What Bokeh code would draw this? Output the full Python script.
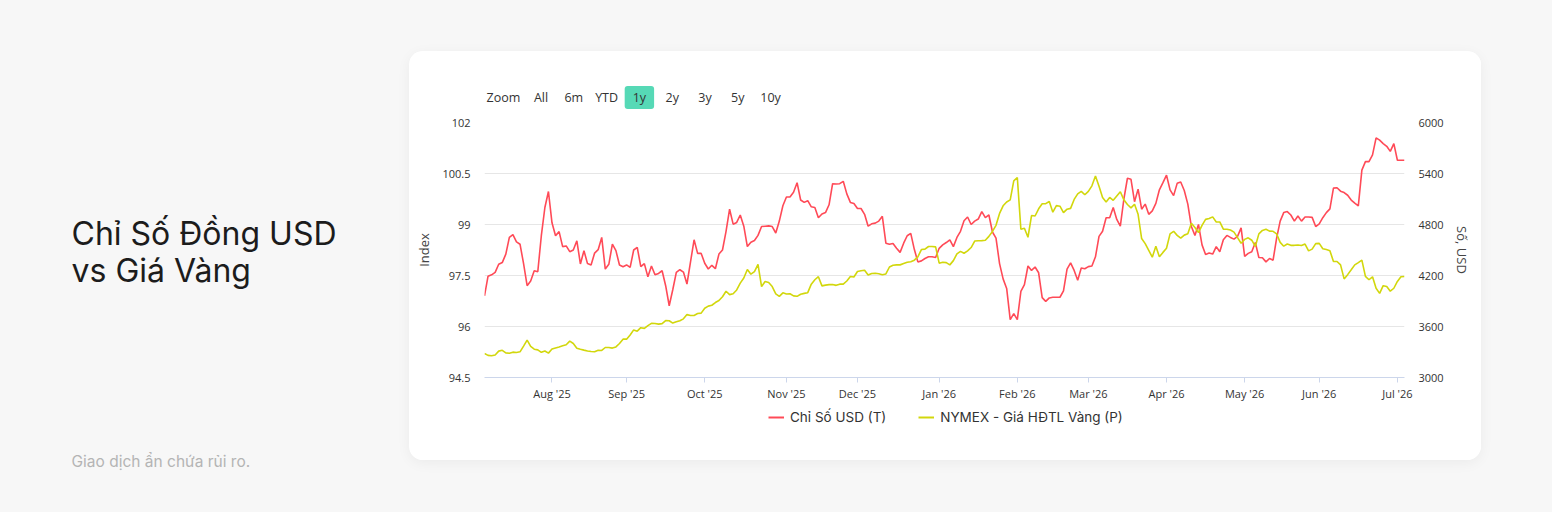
import pandas as pd
from bokeh.plotting import figure
from bokeh.models import (Range1d, LinearAxis, FixedTicker, CustomJSTickFormatter,
                          Legend, LegendItem, Label, Spacer, ColumnDataSource)
from bokeh.layouts import row, column
from bokeh.embed import file_html
from bokeh.resources import INLINE

# ---------------- data ----------------
start_date = "2025-07-07"   # first trading day shown (weekday series)

usd_index = [
    96.90, 97.48, 97.52, 97.59, 97.83, 97.88, 98.13, 98.62, 98.70, 98.49,
    98.42, 97.85, 97.20, 97.34, 97.64, 97.61, 98.67, 99.50, 99.97, 99.05,
    98.67, 98.79, 98.35, 98.37, 98.20, 98.25, 98.52, 97.84, 98.23, 97.85,
    97.81, 98.16, 98.26, 98.62, 97.69, 97.83, 98.42, 98.23, 97.81, 97.76,
    97.81, 97.74, 98.25, 98.33, 97.76, 97.85, 97.46, 97.78, 97.52, 97.56,
    97.64, 97.20,
    96.61, 97.08, 97.59, 97.67, 97.60, 97.25, 97.90, 98.55, 98.15, 98.15,
    97.86, 97.69, 97.80, 97.70, 98.13, 98.25, 98.80, 99.45, 99.01, 99.06,
    99.28, 98.95, 98.35, 98.48, 98.53, 98.68, 98.94, 98.95, 98.96, 98.94,
    98.75, 99.10, 99.55, 99.81, 99.81, 99.95, 100.23, 99.72, 99.65, 99.70,
    99.52, 99.50, 99.20, 99.31, 99.35, 99.58, 100.20, 100.19, 100.20, 100.27,
    99.90, 99.65,
    99.62, 99.47, 99.47, 99.30, 98.95, 99.02, 99.04, 99.10, 99.24, 98.45,
    98.42, 98.44, 98.30, 98.18, 98.45, 98.67, 98.74, 98.27, 97.90, 97.93,
    98.00, 98.05, 98.05, 98.03, 98.30, 98.40, 98.47, 98.55, 98.35, 98.62,
    98.80, 99.11, 99.22, 99.00, 99.10, 99.16, 99.38, 99.20, 99.28, 98.78,
    98.60, 97.85, 97.40, 97.12, 96.20, 96.38, 96.20, 97.03, 97.23, 97.78,
    97.65, 97.75,
    97.58, 96.85, 96.74, 96.84, 96.86, 96.86, 96.86, 97.05, 97.69, 97.87,
    97.65, 97.36, 97.72, 97.70, 97.76, 97.78, 98.05, 98.65, 98.80, 99.20,
    99.20, 99.50, 99.15, 98.95, 99.75, 100.36, 100.33, 99.67, 100.04, 99.45,
    99.60, 99.30, 99.40, 99.62, 100.02, 100.23, 100.45, 100.02, 99.85, 100.21,
    100.25, 100.00, 99.60, 98.94, 98.68, 99.00, 98.40, 98.12, 98.16, 98.13,
    98.35, 98.20,
    98.55, 98.68, 98.62, 98.57, 98.65, 98.90, 98.06, 98.15, 98.20, 98.47,
    98.03, 98.02, 97.90, 98.00, 97.95, 98.60, 99.10, 99.35, 99.38, 99.28,
    99.10, 99.25, 99.10, 99.22, 99.22, 99.21, 98.94, 99.02, 99.20, 99.35,
    99.46, 100.07, 100.08, 99.98, 99.94, 99.86, 99.72, 99.63, 99.55, 100.60,
    100.85, 100.85, 101.05, 101.55, 101.48, 101.38, 101.30, 101.15, 101.38, 100.89,
    100.89, 100.89,
]

gold_price = [
    3282, 3260, 3255, 3265, 3310, 3320, 3290, 3285, 3298, 3295,
    3302, 3370, 3440, 3365, 3333, 3325, 3296, 3312, 3287, 3335,
    3348, 3360, 3373, 3386, 3428, 3400, 3345, 3333, 3322, 3312,
    3306, 3303, 3320, 3318, 3353, 3353, 3346, 3360, 3400, 3451,
    3451, 3500, 3560, 3545, 3586, 3578, 3610, 3637, 3635, 3628,
    3634, 3670,
    3668, 3640, 3656, 3668, 3690, 3740, 3730, 3730, 3752, 3757,
    3815, 3840, 3850, 3882, 3905, 3950, 4015, 3975, 3985, 4030,
    4110, 4170, 4270, 4216, 4245, 4330, 4070, 4129, 4117, 4070,
    3985, 3955, 3996, 3982, 3985, 3960, 3955, 3980, 3990, 3998,
    4098, 4150, 4186, 4078, 4087, 4093, 4095, 4084, 4098, 4098,
    4135, 4188,
    4183, 4247, 4255, 4262, 4205, 4224, 4226, 4220, 4208, 4218,
    4300, 4320, 4325, 4325, 4340, 4355, 4362, 4380, 4420, 4505,
    4510, 4541, 4541, 4537, 4345, 4355, 4352, 4325, 4375, 4455,
    4484, 4462, 4490, 4529, 4605, 4608, 4610, 4615, 4660, 4718,
    4790, 4930, 5020, 5065, 5090, 5314, 5353, 4745, 4755, 4650,
    4905, 4900,
    4985, 5045, 5045, 5070, 4945, 5022, 5015, 4940, 4980, 4990,
    5095, 5160, 5190, 5150, 5190, 5255, 5370, 5250, 5118, 5065,
    5118, 5085, 5135, 5185, 5090, 5035, 4995, 5039, 4920, 4635,
    4575, 4495, 4416, 4545, 4420, 4472, 4520, 4690, 4720, 4672,
    4640, 4675, 4690, 4815, 4765, 4705, 4790, 4860, 4870, 4890,
    4830, 4830,
    4745, 4745, 4735, 4710, 4645, 4580, 4625, 4643, 4615, 4542,
    4690, 4730, 4745, 4722, 4720, 4690, 4590, 4545, 4570, 4555,
    4555, 4558, 4552, 4570, 4490, 4510, 4575, 4578, 4514, 4505,
    4492, 4365, 4365, 4325, 4160, 4210, 4267, 4325, 4352, 4380,
    4190, 4150, 4185, 4050, 3990, 4080, 4070, 4016, 4050, 4130,
    4185, 4188,
]

series_names = ["Chỉ Số USD (T)", "NYMEX - Giá HĐTL Vàng (P)"]
left_ticks = [94.5, 96, 97.5, 99, 100.5, 102]
right_ticks = [3000, 3600, 4200, 4800, 5400, 6000]
left_axis_title = "Index"
right_axis_title = "Số, USD"
zoom_caption = "Zoom"
range_buttons = ["All", "6m", "YTD", "1y", "2y", "3y", "5y", "10y"]
selected_button = "1y"
title_lines = ["Chỉ Số Đồng USD", "vs Giá Vàng"]
disclaimer = "Giao dịch ẩn chứa rủi ro."

# ---------------- styles ----------------
PAGE_BG = "#f7f7f7"
RED = "#ff4a57"
GOLD = "#d2d70c"
TICK_FONT = "Open Sans"
TEXT_FONT = "Inter"
CW = 1072                     # card width
FL, FR = 75, 77               # left / right borders of the plot frame in the card
TOP_H, CHART_H, LEG_H = 61, 292, 56


def blank(width, height, bg="white"):
    f = figure(width=width, height=height, x_range=Range1d(0, 1), y_range=Range1d(0, 1),
               x_axis_type=None, y_axis_type=None, output_backend="svg",
               toolbar_location=None, min_border=0,
               background_fill_color=bg, border_fill_color=bg, outline_line_color=None)
    f.grid.visible = False
    return f


dates = pd.bdate_range(start_date, periods=len(usd_index))
idx = list(range(len(dates)))
month_starts = [i for i in idx[1:] if dates[i].month != dates[i - 1].month]
month_labels = {i: dates[i].strftime("%b '%y") for i in month_starts}

src = ColumnDataSource(dict(x=idx, usd=usd_index, gold=gold_price))

# ---------------- range selector bar (frame aligned with the chart frame) ----------------
top = blank(CW, TOP_H)
btn_y = TOP_H - 46
top.add_layout(Label(x=2, y=btn_y, x_units="screen", y_units="screen", text=zoom_caption,
                     text_font=TICK_FONT, text_font_size="12.5px", text_color="#333333",
                     text_align="left", text_baseline="middle"))
for k, b in enumerate(range_buttons):
    lab = Label(x=56.5 + 32.8 * k, y=btn_y, x_units="screen", y_units="screen", text=b,
                text_font=TICK_FONT, text_font_size="12.5px", text_color="#333333",
                text_align="center", text_baseline="middle")
    if b == selected_button:
        lab.background_fill_color = "#56d9b6"
        lab.padding = (8, 3)
        lab.border_radius = 3
    top.add_layout(lab)

# ---------------- chart ----------------
p = figure(width=CW, height=CHART_H, x_range=Range1d(0, len(idx) - 1),
           y_range=Range1d(left_ticks[0], left_ticks[-1]),
           output_backend="svg", toolbar_location=None,
           min_border_left=FL, min_border_right=FR, min_border_top=10, min_border_bottom=27,
           background_fill_color="white", border_fill_color="white",
           outline_line_color=None)
p.extra_y_ranges = {"gold": Range1d(right_ticks[0], right_ticks[-1])}

p.xgrid.grid_line_color = None
p.ygrid.ticker = FixedTicker(ticks=left_ticks)
p.ygrid.grid_line_color = "#e6e6e6"

xa = p.xaxis[0]
xa.ticker = FixedTicker(ticks=month_starts)
xa.major_label_overrides = month_labels
xa.axis_line_color = "#ccd6eb"
xa.major_tick_line_color = "#ccd6eb"
xa.major_tick_out = 5
xa.major_tick_in = 0
xa.minor_tick_line_color = None
xa.major_label_standoff = 3
xa.major_label_text_font = TICK_FONT
xa.major_label_text_font_size = "11px"
xa.major_label_text_color = "#333333"

ya = p.yaxis[0]
ya.ticker = FixedTicker(ticks=left_ticks)
ya.formatter = CustomJSTickFormatter(code="return tick.toString()")
ya.axis_label = left_axis_title

ra = LinearAxis(y_range_name="gold", ticker=FixedTicker(ticks=right_ticks),
                axis_label=right_axis_title)
p.add_layout(ra, "right")

for ax in (ya, ra):
    ax.axis_line_color = None
    ax.major_tick_line_color = None
    ax.minor_tick_line_color = None
    ax.major_tick_out = 0
    ax.major_tick_in = 0
    ax.major_label_standoff = 14
    ax.major_label_text_font = TICK_FONT
    ax.major_label_text_font_size = "11px"
    ax.major_label_text_color = "#333333"
    ax.axis_label_standoff = 6
    ax.axis_label_text_font = TICK_FONT
    ax.axis_label_text_font_style = "normal"
    ax.axis_label_text_font_size = "13px"
    ax.axis_label_text_color = "#444444"

p.line("x", "usd", source=src, line_color=RED, line_width=1.6)
p.line("x", "gold", source=src, y_range_name="gold", line_color=GOLD, line_width=1.6)

# ---------------- legend bar ----------------
# the key renderers use the same series; the bar's 0..1 y-range keeps them out of view
leg = blank(CW, LEG_H)
k_usd = leg.line("x", "usd", source=src, line_color=RED, line_width=2)
k_gold = leg.line("x", "gold", source=src, line_color=GOLD, line_width=2)
legend = Legend(items=[LegendItem(label=series_names[0], renderers=[k_usd]),
                       LegendItem(label=series_names[1], renderers=[k_gold])],
                orientation="horizontal", location=(359 - FL, LEG_H - 22),
                label_text_font=TEXT_FONT, label_text_font_size="13.5px",
                label_text_color="#333333", glyph_width=16, glyph_height=18,
                label_standoff=6, spacing=32, padding=0, margin=0,
                background_fill_alpha=0, border_line_color=None)
leg.add_layout(legend)

card = column(top, p, leg, width=CW, height=TOP_H + CHART_H + LEG_H,
              styles={"background-color": "white", "border-radius": "14px",
                      "overflow": "hidden", "box-shadow": "0 3px 14px rgba(0,0,0,0.05)"})

# ---------------- left panel ----------------
LW, LH = 409, 512
left = blank(LW, LH, PAGE_BG)
for j, t in enumerate(title_lines):
    left.add_layout(Label(x=71, y=(LH - 233) - 37 * j, x_units="screen", y_units="screen", text=t,
                          text_font=TEXT_FONT, text_font_size="32px", text_color="#1c1c1c",
                          text_align="left", text_baseline="alphabetic"))
left.add_layout(Label(x=71, y=LH - 461, x_units="screen", y_units="screen", text=disclaimer,
                      text_font=TEXT_FONT, text_font_size="15.5px", text_color="#b4b4b4",
                      text_align="left", text_baseline="alphabetic"))

layout = row(left, column(Spacer(width=CW, height=51), card),
             styles={"background-color": PAGE_BG}, width=1552, height=512)

open("out.html", "w").write(file_html(layout, INLINE))
